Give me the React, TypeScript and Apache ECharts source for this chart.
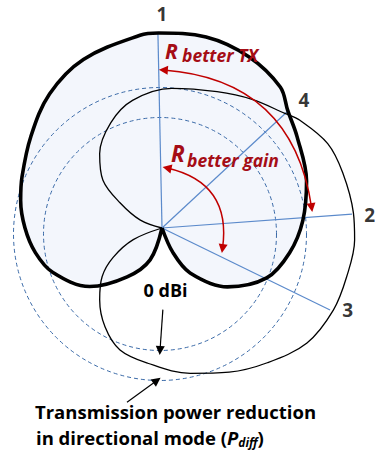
import React, { useEffect, useRef } from 'react';
import * as echarts from 'echarts';

// Directional antenna pattern (thick, filled), read as angle (deg, CCW from +x) and radius
const directionalAngles = [-90, -66, -58, -42, -25.5, -11, 3, 18, 34, 43, 50, 63, 77, 91, 96.5, 115, 130, 145, 160, 169, 180, 191, 202, 219, 234.5, 249.5, 270];
const directionalRadii = [0, 27, 53, 88, 116, 130, 141, 152, 163, 172, 184, 192, 196, 195, 194, 186, 175, 160, 149, 144, 137, 129, 118, 93, 60, 34, 0];

// Second (rotated) antenna pattern, thin line
const otherAngles = [180, 160, 149, 141, 130, 116, 103, 86, 68, 55, 43, 38, 27, 17, 4.5, -3.6, -14.8, -25.6, -38.4, -52, -65, -79, -96, -109, -120, -131, -141, -149, -158, -180];
const otherRadii = [0, 23, 49, 76, 97, 117, 131, 140, 147, 157, 168, 175, 186, 189, 192, 193, 191, 190, 185, 171, 159, 148, 136, 129, 114, 95, 77, 57, 31, 0];

// Dashed reference rings: 0 dBi level and reduced level (P_diff)
const ringCenter = [-2, -6];
const ringRadii = [116.5, 146.5];

// Direction rays 1..4
const dirLabels = ['1', '2', '3', '4'];
const dirAngles = [91.2, 4.2, -26, 42.9];
const dirLengths = [194, 190.5, 187, 170.5];
const dirLabelAngles = [90, 3.6, -23.8, 42];
const dirLabelRadii = [214, 208, 203, 191];

// Red arcs [angle, radius] at both ends
const txArc = [[89.5, 158], [7.8, 151]];
const gainArc = [[85.2, 60.2], [-18.7, 63.9]];

// Black pointer arrows: ring index, tip angle on ring, tail length, tail direction
const pointerRing = [0, 1];
const pointerTipAngle = [270, 268.8];
const pointerLength = [41, 37];
const pointerDir = [86, 216];

const rad = (d: number) => (d * Math.PI) / 180;
const toXY = (a: number, r: number): [number, number] => [r * Math.cos(rad(a)), r * Math.sin(rad(a))];

const FONT = '"Open Sans", Lato, sans-serif';
const RED = '#C00000';
const TEXT_RED = '#A50D16';

export default function App() {
  const ref = useRef<HTMLDivElement>(null);
  useEffect(() => {
    if (!ref.current) return;
    const chart = echarts.init(ref.current, undefined, { renderer: 'svg' });

    const dirPts = directionalAngles.map((a, i) => toXY(a, directionalRadii[i]));
    const otherPts = otherAngles.map((a, i) => toXY(a, otherRadii[i]));

    const pointerCoords = pointerRing.map((ri, i) => {
      const t = toXY(pointerTipAngle[i], ringRadii[ri]);
      const tip: [number, number] = [ringCenter[0] + t[0], ringCenter[1] + t[1]];
      const d = toXY(pointerDir[i], pointerLength[i]);
      return { coords: [[tip[0] + d[0], tip[1] + d[1]], tip] };
    });

    const hiddenAxis = {
      type: 'value' as const,
      show: false,
      axisLine: { show: false },
      axisTick: { show: false },
      axisLabel: { show: false },
      splitLine: { show: false },
    };

    chart.setOption({
      animation: false,
      grid: { left: 0, right: 0, top: 0, bottom: 0 },
      xAxis: { ...hiddenAxis, min: -162, max: 216 },
      yAxis: { ...hiddenAxis, min: -226, max: 228 },
      series: [
        {
          type: 'custom',
          z: 1,
          silent: true,
          data: [[0, 0]],
          renderItem: (_p: any, api: any) => ({
            type: 'polygon',
            shape: { points: dirPts.map((p) => api.coord(p)) },
            style: { fill: '#F3F6FC', stroke: 'none' },
          }),
        },
        {
          type: 'custom',
          z: 2,
          silent: true,
          data: ringRadii.map((r) => [r]),
          renderItem: (_p: any, api: any) => {
            const r = api.value(0);
            const c = api.coord(ringCenter);
            const e = api.coord([ringCenter[0] + r, ringCenter[1]]);
            return {
              type: 'circle',
              shape: { cx: c[0], cy: c[1], r: e[0] - c[0] },
              style: { fill: 'none', stroke: '#3A6AA8', lineWidth: 1, lineDash: [4, 3] },
            };
          },
        },
        {
          type: 'lines',
          coordinateSystem: 'cartesian2d',
          z: 3,
          silent: true,
          symbol: 'none',
          lineStyle: { color: '#5B8ACB', width: 1.2, opacity: 1 },
          data: dirAngles.map((a, i) => ({ coords: [[0, 0], toXY(a, dirLengths[i])] })),
        },
        {
          type: 'line',
          z: 4,
          silent: true,
          data: otherPts,
          smooth: 0.35,
          symbol: 'none',
          lineStyle: { color: '#000', width: 1.3 },
        },
        {
          type: 'line',
          z: 5,
          silent: true,
          data: dirPts,
          smooth: 0.35,
          symbol: 'none',
          lineStyle: { color: '#000', width: 3.6 },
        },
        {
          type: 'lines',
          coordinateSystem: 'cartesian2d',
          z: 6,
          silent: true,
          symbol: ['triangle', 'triangle'],
          symbolSize: 9,
          lineStyle: { color: RED, width: 1.5, opacity: 1 },
          data: [
            { coords: [toXY(txArc[0][0], txArc[0][1]), toXY(txArc[1][0], txArc[1][1])], lineStyle: { curveness: 0.4 } },
            { coords: [toXY(gainArc[0][0], gainArc[0][1]), toXY(gainArc[1][0], gainArc[1][1])], lineStyle: { curveness: 0.46 } },
          ],
        },
        {
          type: 'lines',
          coordinateSystem: 'cartesian2d',
          z: 6,
          silent: true,
          symbol: ['none', 'triangle'],
          symbolSize: 9,
          lineStyle: { color: '#000', width: 1.2, opacity: 1 },
          data: pointerCoords,
        },
        {
          type: 'scatter',
          z: 7,
          silent: true,
          symbolSize: 0,
          data: dirLabels.map((n, i) => ({ name: n, value: toXY(dirLabelAngles[i], dirLabelRadii[i]) })),
          label: {
            show: true,
            position: 'inside',
            formatter: '{b}',
            color: '#000',
            fontFamily: FONT,
            fontWeight: 'bold',
            fontSize: 19,
          },
        },
      ],
      graphic: [
        { type: 'text', x: 165, y: 51.4, style: { text: 'R', fill: TEXT_RED, fontFamily: FONT, fontWeight: 'bold', fontStyle: 'italic', fontSize: 21, verticalAlign: 'middle', align: 'left' }, z: 10 },
        { type: 'text', x: 182, y: 54.7, style: { text: 'better TX', fill: TEXT_RED, fontFamily: FONT, fontWeight: 'bold', fontStyle: 'italic', fontSize: 17.5, verticalAlign: 'middle', align: 'left' }, z: 10 },
        { type: 'text', x: 171, y: 153.6, style: { text: 'R', fill: TEXT_RED, fontFamily: FONT, fontWeight: 'bold', fontStyle: 'italic', fontSize: 22.5, verticalAlign: 'middle', align: 'left' }, z: 10 },
        { type: 'text', x: 187, y: 160, style: { text: 'better gain', fill: TEXT_RED, fontFamily: FONT, fontWeight: 'bold', fontStyle: 'italic', fontSize: 17.5, verticalAlign: 'middle', align: 'left' }, z: 10 },
        { type: 'text', x: 165.5, y: 290, style: { text: '0 dBi', fill: '#000', fontFamily: FONT, fontWeight: 'bold', fontSize: 18, verticalAlign: 'middle', align: 'center' }, z: 10 },
        { type: 'text', x: 35, y: 411.5, style: { text: 'Transmission power reduction', fill: '#000', fontFamily: FONT, fontWeight: 'bold', fontSize: 18.5, verticalAlign: 'middle', align: 'left' }, z: 10 },
        {
          type: 'text', x: 36, y: 437.5, z: 10,
          style: {
            text: '{n|in directional mode (}{p|P}{d|diff}{n|)}',
            verticalAlign: 'middle', align: 'left',
            rich: {
              n: { fontFamily: FONT, fontWeight: 'bold', fontSize: 18.5, fill: '#000', lineHeight: 22 },
              p: { fontFamily: FONT, fontWeight: 'bold', fontStyle: 'italic', fontSize: 18.5, fill: '#000', lineHeight: 22 },
              d: { fontFamily: FONT, fontWeight: 'bold', fontStyle: 'italic', fontSize: 12, fill: '#000', lineHeight: 22, padding: [10, 0, 0, 0] },
            },
          },
        },
      ],
    });
    return () => chart.dispose();
  }, []);
  return <div ref={ref} style={{ position: 'fixed', left: 0, top: 0, width: 378, height: 454, background: '#fff' }} />;
}
